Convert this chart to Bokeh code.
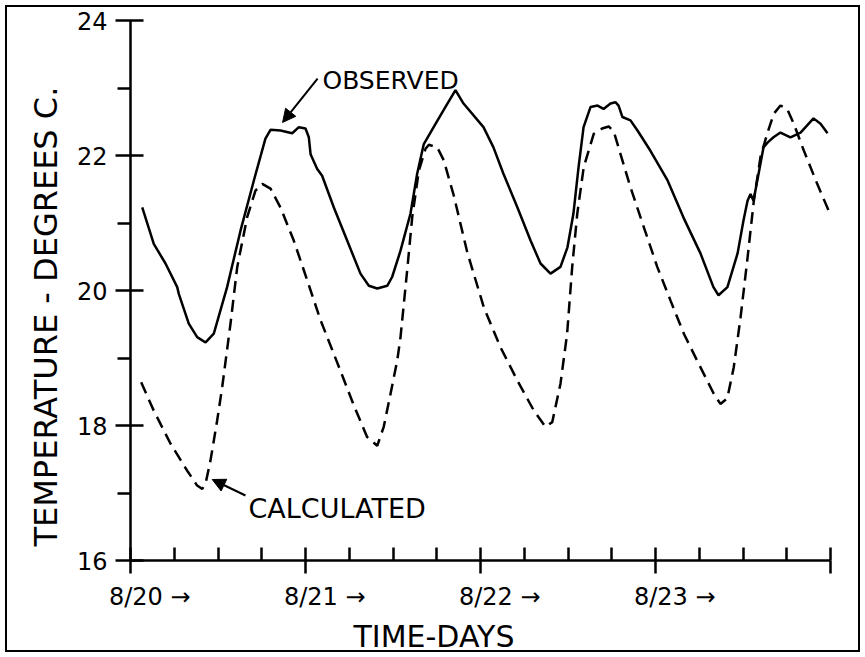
from bokeh.plotting import figure
from bokeh.models import (Range1d, LinearAxis, FixedTicker, Title, Arrow,
                          NormalHead, InlineStyleSheet)
from bokeh.core.properties import value
from bokeh.embed import file_html
from bokeh.resources import INLINE

FONT = "DejaVu Sans"

# ---------------- data (days after 8/20 00:00, temperature in deg C) ----------------
obs_day = [0.067, 0.133, 0.200, 0.267, 0.276, 0.333, 0.381, 0.429, 0.476, 0.552,
           0.629, 0.705, 0.771, 0.800, 0.857, 0.924, 0.962, 1.000, 1.019, 1.029,
           1.067, 1.095, 1.162, 1.238, 1.314, 1.362, 1.410, 1.467, 1.495, 1.543,
           1.600, 1.638, 1.676, 1.743, 1.800, 1.857, 1.903, 2.017, 2.074, 2.131,
           2.211, 2.286, 2.343, 2.400, 2.457, 2.497, 2.531, 2.560, 2.589, 2.629,
           2.669, 2.703, 2.743, 2.771, 2.789, 2.811, 2.857, 2.897, 2.971, 3.069,
           3.160, 3.257, 3.331, 3.360, 3.411, 3.469, 3.503, 3.526, 3.543, 3.560,
           3.589, 3.617, 3.640, 3.674, 3.714, 3.771, 3.829, 3.903, 3.943, 3.983]
obs_temp = [21.23, 20.69, 20.40, 20.05, 19.95, 19.51, 19.31, 19.23, 19.36, 20.05,
            20.89, 21.63, 22.25, 22.38, 22.37, 22.33, 22.42, 22.40, 22.27, 22.02,
            21.80, 21.70, 21.23, 20.74, 20.25, 20.07, 20.03, 20.07, 20.20, 20.59,
            21.14, 21.73, 22.17, 22.47, 22.72, 22.97, 22.77, 22.42, 22.12, 21.73,
            21.23, 20.74, 20.40, 20.25, 20.35, 20.64, 21.14, 21.82, 22.42, 22.72,
            22.74, 22.69, 22.77, 22.79, 22.74, 22.57, 22.52, 22.37, 22.07, 21.63,
            21.08, 20.55, 20.05, 19.93, 20.05, 20.55, 21.04, 21.33, 21.43, 21.33,
            21.73, 22.12, 22.19, 22.27, 22.34, 22.27, 22.34, 22.55, 22.47, 22.33]

calc_day = [0.061, 0.133, 0.229, 0.324, 0.381, 0.410, 0.429, 0.457, 0.495, 0.524,
            0.571, 0.610, 0.667, 0.714, 0.753, 0.800, 0.857, 0.933, 1.010, 1.086,
            1.162, 1.276, 1.352, 1.410, 1.447, 1.486, 1.524, 1.543, 1.581, 1.610,
            1.648, 1.686, 1.705, 1.753, 1.790, 1.848, 1.924, 2.019, 2.114, 2.210,
            2.305, 2.371, 2.410, 2.457, 2.495, 2.524, 2.553, 2.590, 2.647, 2.695,
            2.733, 2.762, 2.800, 2.857, 2.933, 3.010, 3.086, 3.162, 3.238, 3.333,
            3.371, 3.410, 3.447, 3.486, 3.524, 3.562, 3.600, 3.638, 3.676, 3.714,
            3.752, 3.790, 3.848, 3.924, 4.000]
calc_temp = [18.64, 18.22, 17.73, 17.33, 17.11, 17.06, 17.14, 17.48, 18.07, 18.57,
             19.50, 20.35, 21.09, 21.48, 21.58, 21.51, 21.23, 20.74, 20.15, 19.56,
             19.06, 18.30, 17.83, 17.70, 17.98, 18.47, 18.96, 19.31, 20.30, 21.09,
             21.78, 22.10, 22.16, 22.12, 21.93, 21.40, 20.57, 19.75, 19.16, 18.67,
             18.22, 17.98, 18.05, 18.62, 19.36, 20.35, 21.14, 21.83, 22.32, 22.40,
             22.43, 22.35, 22.02, 21.53, 20.94, 20.35, 19.85, 19.36, 18.96, 18.47,
             18.32, 18.40, 18.86, 19.60, 20.44, 21.33, 21.98, 22.32, 22.62, 22.74,
             22.69, 22.47, 22.07, 21.58, 21.12]

temp_major = [16, 18, 20, 22, 24]
temp_minor = [17, 19, 21, 23]
day_major = [0, 1, 2, 3, 4]
day_quarters = [d + q for d in range(4) for q in (0.25, 0.5, 0.75)]
day_labels = ["8/20 →", "8/21 →", "8/22 →", "8/23 →"]

# ---------------- figure ----------------
p = figure(width=865, height=657,
           x_range=Range1d(0, 4), y_range=Range1d(16, 24),
           x_axis_type=None, y_axis_type=None,
           output_backend="svg", toolbar_location=None,
           min_border_left=130, min_border_right=35,
           min_border_top=20, min_border_bottom=97)
p.outline_line_color = None
p.background_fill_color = None
p.border_fill_color = None
# outer frame round the whole figure (drawn behind the transparent canvas)
p.stylesheets = [InlineStyleSheet(css=(
    ":host { background: white; "
    "box-shadow: inset 0 0 0 5px white, inset 0 0 0 7px black; "
    "outline: 2px solid black; outline-offset: -7px; }"))]

# y axis
yaxis = LinearAxis(ticker=FixedTicker(ticks=temp_major, minor_ticks=temp_minor),
                   axis_line_width=2.5, axis_line_color="black",
                   major_tick_in=13, major_tick_out=15, major_tick_line_width=2.5,
                   minor_tick_in=0, minor_tick_out=13, minor_tick_line_width=2.5,
                   major_label_text_font=FONT, major_label_text_font_size="24px",
                   major_label_text_color="black", major_label_standoff=8)
p.add_layout(yaxis, "left")

# x axis line with inward ticks (every 6 h and every day)
xaxis = LinearAxis(ticker=FixedTicker(ticks=[], minor_ticks=day_quarters + day_major),
                   axis_line_width=2.5, axis_line_color="black",
                   major_tick_in=0, major_tick_out=0,
                   minor_tick_in=13, minor_tick_out=0, minor_tick_line_width=2.5,
                   major_label_standoff=0)
p.add_layout(xaxis, "below")

# day ticks pointing outward + day labels placed right of each day tick
label_shift = 0.11
p.extra_x_ranges = {"lbl": Range1d(-label_shift, 4 - label_shift)}
xlab = LinearAxis(x_range_name="lbl",
                  ticker=FixedTicker(ticks=list(range(len(day_labels))),
                                     minor_ticks=[d - label_shift for d in day_major]),
                  axis_line_color=None,
                  major_tick_line_color=None, major_tick_in=0, major_tick_out=0,
                  minor_tick_in=0, minor_tick_out=13, minor_tick_line_width=2.5,
                  minor_tick_line_color="black",
                  major_label_overrides={i: t for i, t in enumerate(day_labels)},
                  major_label_text_font=FONT, major_label_text_font_size="24px",
                  major_label_text_color="black", major_label_standoff=9)
p.add_layout(xlab, "below")

p.add_layout(Title(text="TIME-DAYS", align="left", offset=223, standoff=6,
                   vertical_align="bottom",
                   text_font=FONT, text_font_size="30px", text_font_style="normal",
                   text_color="black"), "below")
p.add_layout(Title(text="TEMPERATURE - DEGREES C.", align="left", offset=14,
                   standoff=18, text_font=FONT, text_font_size="32px",
                   text_font_style="normal", text_color="black"), "left")

# curves
p.line(obs_day, obs_temp, line_width=2.5, line_color="black")
p.line(calc_day, calc_temp, line_width=2.5, line_color="black", line_dash="12 7")

# annotations
p.text(x=[1.097], y=[23.11], text=["OBSERVED"], text_font=value(FONT),
       text_font_size="25px", text_align="left", text_baseline="alphabetic",
       text_color="black")
p.text(x=[0.674], y=[16.77], text=["CALCULATED"], text_font=value(FONT),
       text_font_size="27px", text_align="left", text_baseline="alphabetic",
       text_color="black")
p.add_layout(Arrow(end=NormalHead(size=13, fill_color="black", line_color="black"),
                   x_start=1.069, y_start=23.14, x_end=0.869, y_end=22.49,
                   line_width=2, line_color="black"))
p.add_layout(Arrow(end=NormalHead(size=13, fill_color="black", line_color="black"),
                   x_start=0.657, y_start=16.963, x_end=0.467, y_end=17.20,
                   line_width=2, line_color="black"))

open("out.html", "w").write(file_html(p, INLINE))
